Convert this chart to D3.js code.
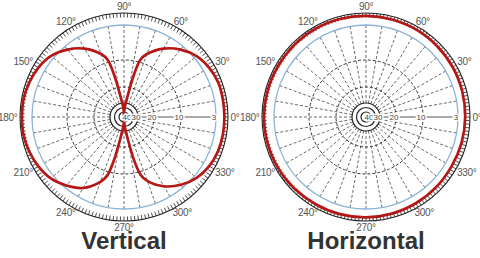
<!DOCTYPE html>
<html lang="en">
<head>
<meta charset="utf-8">
<title>Antenna patterns</title>
<script src="https://cdn.jsdelivr.net/npm/d3@7"></script>
<style>
  body { margin: 0; background: #fff; }
  svg { display: block; font-family: "Liberation Sans", Arial, sans-serif; }
  .ang { font-size: 10px; fill: #555; text-anchor: middle; dominant-baseline: central; letter-spacing: -0.3px; }
  .db { font-size: 8px; fill: #444; text-anchor: middle; dominant-baseline: central;
        stroke: #fff; stroke-width: 3px; paint-order: stroke; }
  .title { font-size: 24px; font-weight: bold; fill: #333; text-anchor: middle; }
</style>
</head>
<body>
<svg width="480" height="258">
  <g id="vert" transform="translate(124, 117)"></g>
  <g id="horiz" transform="translate(366, 117)"></g>
</svg>
<script>
// ring values (dB down) and the labels printed on the 0 degree line
var dbLabels = [40, 30, 20, 10, 3];
var solidRings = [40, 35, 30];
var dashedRings = [20, 10];
var angleLabels = [0, 30, 60, 90, 120, 150, 180, 210, 240, 270, 300, 330];

// vertical pattern: figure eight, nulls straight up and down
var vertAngles = [0, 10, 20, 30, 40, 50, 60, 70, 74, 77, 80, 84, 87, 89, 90,
  91, 93, 96, 100, 103, 106, 110, 120, 130, 140, 150, 160, 170, 180,
  190, 200, 210, 220, 230, 240, 250, 254, 257, 260, 264, 267, 269, 270,
  271, 273, 276, 280, 283, 286, 290, 300, 310, 320, 330, 340, 350];
var vertDb = [0.9, 0.9, 0.9, 1.4, 2.3, 3.8, 5.6, 8.0, 9.5, 15.5, 25, 32, 37, 41, 45,
  41, 37, 32, 25, 15.5, 9.5, 8.0, 5.6, 3.8, 2.2, 1.3, 0.8, 0.5, 0.5,
  0.5, 0.8, 1.3, 2.1, 3.5, 5.0, 7.6, 9.2, 15, 24, 32, 37, 41, 45,
  41, 37, 32, 24, 15, 9.4, 7.8, 5.4, 3.7, 2.3, 1.4, 1.0, 0.9];

// horizontal pattern: almost omnidirectional
var horizAngles = [0, 15, 30, 45, 60, 75, 90, 105, 120, 135, 150, 165,
  180, 195, 210, 225, 240, 255, 270, 285, 300, 315, 330, 345];
var horizDb = [1.2, 1.1, 1.0, 0.9, 0.8, 0.75, 0.7, 0.65, 0.6, 0.6, 0.6, 0.55,
  0.5, 0.55, 0.6, 0.7, 0.8, 0.85, 0.9, 1.0, 1.1, 1.2, 1.3, 1.25];

// log-ish radial scale
var rScale = d3.scaleLinear()
  .domain([45, 40, 30, 20, 10, 3, 0])
  .range([0, 5, 14, 30, 57, 92, 104]);

var aScale = d3.scaleLinear()
  .domain([0, 360])
  .range([Math.PI / 2, Math.PI / 2 - 2 * Math.PI]);

function px(deg, r) { return r * Math.cos(deg * Math.PI / 180); }
function py(deg, r) { return -r * Math.sin(deg * Math.PI / 180); }

function drawPlot(sel, angles, dbs, title) {
  var g = d3.select(sel);
  var outer = rScale(0);

  // radial spokes every 10 degrees
  g.selectAll('line.spoke')
    .data(d3.range(10, 360, 10))
    .enter()
    .append('line')
    .attr('class', 'spoke')
    .attr('x1', function(d) { return px(d, rScale(30)); })
    .attr('y1', function(d) { return py(d, rScale(30)); })
    .attr('x2', function(d) { return px(d, rScale(3)); })
    .attr('y2', function(d) { return py(d, rScale(3)); })
    .attr('stroke', '#444')
    .attr('stroke-width', 0.8)
    .attr('stroke-dasharray', '3,2');

  g.selectAll('circle.dash')
    .data(dashedRings)
    .enter()
    .append('circle')
    .attr('class', 'dash')
    .attr('r', function(d) { return rScale(d); })
    .attr('fill', 'none')
    .attr('stroke', '#333')
    .attr('stroke-width', 1)
    .attr('stroke-dasharray', '3,2');

  g.selectAll('circle.solid')
    .data(solidRings)
    .enter()
    .append('circle')
    .attr('class', 'solid')
    .attr('r', function(d) { return rScale(d); })
    .attr('fill', 'none')
    .attr('stroke', '#222')
    .attr('stroke-width', 1.2);

  // 3 dB ring
  g.append('circle')
    .attr('r', rScale(3))
    .attr('fill', 'none')
    .attr('stroke', '#8db3d6')
    .attr('stroke-width', 1.3);

  // 0 degree scale line
  g.append('line')
    .attr('x1', rScale(30)).attr('y1', 0)
    .attr('x2', rScale(3)).attr('y2', 0)
    .attr('stroke', '#555')
    .attr('stroke-width', 1);

  // outer tick ring, every 2 degrees
  g.selectAll('line.tick')
    .data(d3.range(0, 360, 2))
    .enter()
    .append('line')
    .attr('class', 'tick')
    .attr('x1', function(d) { return px(d, outer - 4.5); })
    .attr('y1', function(d) { return py(d, outer - 4.5); })
    .attr('x2', function(d) { return px(d, outer); })
    .attr('y2', function(d) { return py(d, outer); })
    .attr('stroke', '#222')
    .attr('stroke-width', 0.8);

  g.append('circle')
    .attr('r', outer)
    .attr('fill', 'none')
    .attr('stroke', '#222')
    .attr('stroke-width', 1.1);

  // pattern
  var pts = angles.map(function(a, i) { return [aScale(a), rScale(dbs[i])]; });
  var line = d3.lineRadial()
    .angle(function(d) { return d[0]; })
    .radius(function(d) { return d[1]; })
    .curve(d3.curveCatmullRomClosed.alpha(0.5));

  g.append('path')
    .attr('d', line(pts))
    .attr('fill', 'none')
    .attr('stroke', '#b51616')
    .attr('stroke-width', 2.7)
    .attr('stroke-linejoin', 'round');

  g.selectAll('text.db')
    .data(dbLabels)
    .enter()
    .append('text')
    .attr('class', 'db')
    .attr('x', function(d) { return rScale(d) - 2; })
    .attr('y', 0)
    .text(function(d) { return d; });

  // angle labels sit just outside the tick ring
  g.selectAll('text.ang')
    .data(angleLabels)
    .enter()
    .append('text')
    .attr('class', 'ang')
    .attr('x', function(d) {
      var w = String(d).length * 5.3 + 3.7;
      return px(d, outer + 2.5) + Math.cos(d * Math.PI / 180) * w / 2;
    })
    .attr('y', function(d) {
      return py(d, outer + 2.5) - Math.sin(d * Math.PI / 180) * 3.8;
    })
    .text(function(d) { return d + '°'; });

  g.append('text')
    .attr('class', 'title')
    .attr('x', 0)
    .attr('y', 132)
    .text(title);
}

drawPlot('#vert', vertAngles, vertDb, 'Vertical');
drawPlot('#horiz', horizAngles, horizDb, 'Horizontal');
</script>
</body>
</html>
